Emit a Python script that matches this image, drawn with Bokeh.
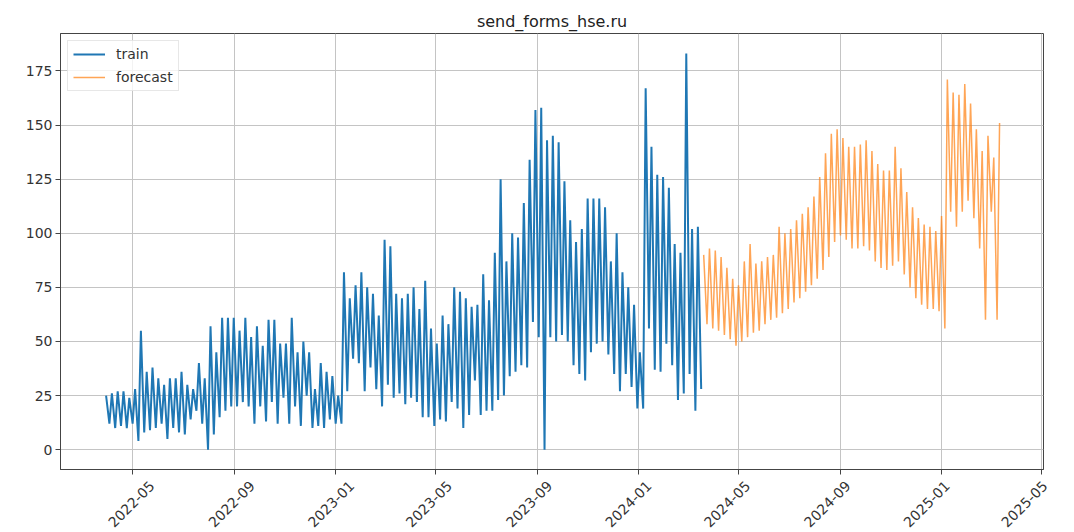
import datetime as dt
from bokeh.plotting import figure
from bokeh.layouts import column
from bokeh.models import FixedTicker, Legend, LegendItem, Range1d, ColumnDataSource
from bokeh.core.properties import value
from bokeh.embed import file_html
from bokeh.resources import INLINE
import math

# ---------------- data ----------------
title_text = "send_forms_hse.ru"
series_names = ["train", "forecast"]

# weekly readings: weekday peak and weekend trough, week starting Monday
train_week_start = dt.date(2022, 3, 28)
train_high = [25, 26, 27, 27, 24, 28, 55, 36, 38, 33,
              30, 33, 33, 36, 30, 28, 40, 33, 57, 45,
              61, 61, 61, 55, 61, 52, 57, 48, 60, 60,
              49, 49, 61, 45, 50, 45, 28, 40, 36, 34,
              25, 82, 70, 76, 82, 75, 72, 62, 97, 94,
              72, 70, 72, 75, 65, 78, 56, 49, 62, 58,
              75, 73, 70, 66, 67, 81, 69, 91, 125, 87,
              100, 98, 114, 134, 157, 158, 143, 145, 142, 124,
              106, 96, 102, 116, 116, 116, 112, 87, 100, 82,
              75, 67, 45, 167, 140, 127, 126, 121, 95, 91,
              183, 102, 103]
train_low = [12, 10, 11, 10, 12, 4, 8, 9, 10, 12,
             5, 10, 8, 7, 14, 18, 12, 0, 7, 15,
             18, 20, 20, 22, 20, 12, 20, 13, 22, 12,
             24, 12, 20, 11, 25, 10, 11, 10, 14, 12,
             12, 27, 42, 40, 27, 38, 28, 20, 30, 24,
             26, 21, 24, 22, 15, 15, 11, 14, 13, 22,
             19, 10, 16, 32, 16, 18, 18, 23, 25, 34,
             36, 39, 38, 59, 52, 0, 52, 50, 53, 50,
             39, 35, 32, 45, 49, 50, 44, 35, 27, 35,
             29, 19, 19, 56, 37, 36, 49, 39, 23, 26,
             35, 18, 28]

forecast_week_start = dt.date(2024, 3, 18)
forecast_high = [90, 93, 92, 89, 84, 79, 76, 87, 95, 86,
                 87, 89, 90, 103, 100, 102, 106, 109, 112, 117,
                 126, 137, 146, 148, 144, 140, 140, 141, 143, 138,
                 132, 129, 129, 140, 130, 119, 112, 107, 104, 103,
                 101, 108, 171, 165, 164, 169, 160, 148, 138, 145,
                 135, 151]
forecast_low = [58, 56, 55, 53, 51, 48, 50, 52, 54, 55,
                58, 60, 61, 63, 65, 68, 70, 73, 76, 79,
                83, 89, 96, 99, 97, 93, 93, 94, 92, 87,
                84, 83, 85, 87, 81, 75, 70, 67, 65, 65,
                64, 56, 110, 103, 110, 115, 107, 93, 60, 110,
                60]

x_tick_labels = ["2022-05", "2022-09", "2023-01", "2023-05", "2023-09",
                 "2024-01", "2024-05", "2024-09", "2025-01", "2025-05"]
y_ticks = [0, 25, 50, 75, 100, 125, 150, 175]


def weekly_points(start, highs, lows):
    xs, ys = [], []
    for i, h in enumerate(highs):
        d0 = start + dt.timedelta(days=7 * i)
        xs.append(dt.datetime.combine(d0 + dt.timedelta(days=2), dt.time()))
        ys.append(h)
        if i < len(lows):
            xs.append(dt.datetime.combine(d0 + dt.timedelta(days=6), dt.time()))
            ys.append(lows[i])
    return xs, ys


tx, ty = weekly_points(train_week_start, train_high, train_low)
fx, fy = weekly_points(forecast_week_start, forecast_high, forecast_low)

FONT = "DejaVu Sans"
Y0, Y1 = -9.15, 192.3
X0, X1 = dt.datetime(2022, 2, 3), dt.datetime(2025, 5, 4)

# layout (pixels)
W = 1060
BORDER_L, BORDER_R = 60, 17
FRAME_W = W - BORDER_L - BORDER_R
H_MAIN = 477
H_LAB = 55
W_LAB = 1066

p = figure(width=W, height=H_MAIN, x_axis_type="datetime",
           output_backend="svg", toolbar_location=None,
           x_range=Range1d(start=X0, end=X1),
           y_range=Range1d(Y0, Y1),
           min_border_left=BORDER_L, min_border_right=BORDER_R,
           min_border_top=33, min_border_bottom=8)

p.title.text = title_text
p.title.align = "center"
p.title.text_font = FONT
p.title.text_font_size = "16px"
p.title.text_font_style = "normal"
p.title.text_color = "#222222"
p.title.standoff = 6

r_train = p.line(x="x", y="y", source=ColumnDataSource(dict(x=tx, y=ty)),
                 line_color="#1f77b4", line_width=2)
r_fc = p.line(x="x", y="y", source=ColumnDataSource(dict(x=fx, y=fy)),
              line_color="#ff7f0e", line_width=1.5, line_alpha=0.7)

# axes
tick_dates = [dt.datetime(int(s[:4]), int(s[5:]), 1) for s in x_tick_labels]
tick_ms = [d.replace(tzinfo=dt.timezone.utc).timestamp() * 1000 for d in tick_dates]
p.xaxis.ticker = FixedTicker(ticks=tick_ms)
p.xaxis.major_label_overrides = {t: "" for t in tick_ms}
p.xaxis.major_label_text_font_size = "0px"
p.yaxis.ticker = FixedTicker(ticks=y_ticks)
p.yaxis.major_label_text_font_size = "14px"

for ax in (p.xaxis[0], p.yaxis[0]):
    ax.major_label_text_font = FONT
    ax.major_label_text_color = "#333333"
    ax.axis_line_color = "#444444"
    ax.major_tick_line_color = "#444444"
    ax.major_tick_out = 5
    ax.major_tick_in = 0
    ax.minor_tick_line_color = None
p.yaxis.major_label_standoff = 3
p.xaxis.major_label_standoff = 0

p.outline_line_color = "#444444"
p.outline_line_width = 1

p.xgrid.grid_line_color = "#c4c4c4"
p.ygrid.grid_line_color = "#c4c4c4"
p.xgrid.grid_line_width = 1
p.ygrid.grid_line_width = 1

legend = Legend(items=[LegendItem(label=series_names[0], renderers=[r_train]),
                       LegendItem(label=series_names[1], renderers=[r_fc])],
                location="top_left")
legend.label_text_font = FONT
legend.label_text_font_size = "14px"
legend.label_text_color = "#333333"
legend.glyph_width = 32
legend.glyph_height = 16
legend.label_height = 16
legend.label_standoff = 11
legend.spacing = 7
legend.padding = 5
legend.margin = 7
legend.border_line_color = "#d0d0d0"
legend.background_fill_alpha = 0.8
p.add_layout(legend)

p.background_fill_color = "white"
p.border_fill_color = "white"

# strip below the plot holding the rotated date labels, centred on the ticks
lab_span = (X1 - X0) * ((W_LAB - BORDER_L) / FRAME_W)
p2 = figure(width=W_LAB, height=H_LAB, x_axis_type=None, y_axis_type=None,
            output_backend="svg", toolbar_location=None,
            x_range=Range1d(start=X0, end=X0 + lab_span),
            y_range=Range1d(0, H_LAB),
            min_border_left=BORDER_L, min_border_right=0,
            min_border_top=0, min_border_bottom=0)
p2.outline_line_color = None
p2.background_fill_color = "white"
p2.border_fill_color = "white"
p2.text(x=tick_dates, y=[H_LAB - 26.5] * len(tick_dates), text=x_tick_labels,
        angle=math.pi / 4, text_align="center", text_baseline="middle",
        text_font=value(FONT), text_font_size=value("14px"),
        text_color="#333333")

open("out.html", "w").write(file_html(column(p, p2), INLINE))
